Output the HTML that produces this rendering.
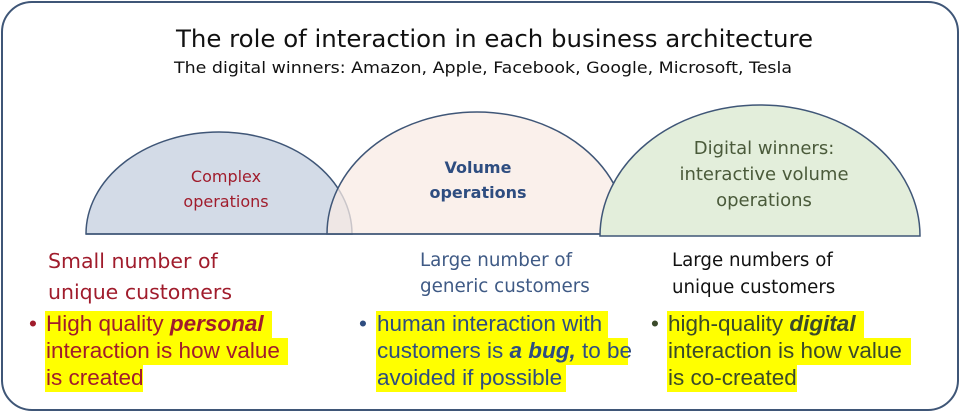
<!DOCTYPE html>
<html><head><style>
body{margin:0;background:#fff;}
svg text{font-family:"Liberation Sans",sans-serif;}
.d{font-family:"DejaVu Sans","Liberation Sans",sans-serif;}
</style></head><body>
<svg width="960" height="412" viewBox="0 0 960 412" xmlns="http://www.w3.org/2000/svg">
<rect x="2" y="2" width="956" height="408" rx="30" fill="#fff" stroke="#3f5677" stroke-width="2"/>
<text x="176" y="47" textLength="637" lengthAdjust="spacingAndGlyphs" fill="#111" class="d" style="font-size:24px">The role of interaction in each business architecture</text>
<text x="174" y="73" textLength="618" lengthAdjust="spacingAndGlyphs" fill="#111" class="d" style="font-size:16px">The digital winners: Amazon, Apple, Facebook, Google, Microsoft, Tesla</text>
<path d="M86 234 A133 102 0 0 1 352 234 Z" fill="#d3dbe7" stroke="#3f5677" stroke-width="1.5"/>
<path d="M327 234 A150 122 0 0 1 627 234 Z" fill="#f8ebe4" fill-opacity="0.75" stroke="#3f5677" stroke-width="1.5"/>
<path d="M600 236 A160 131 0 0 1 920 236 Z" fill="#e3eedb" stroke="#3f5677" stroke-width="1.5"/>
<line x1="86" y1="234" x2="600" y2="234" stroke="#3f5677" stroke-width="1.5"/>
<text x="226" y="182" text-anchor="middle" fill="#a01c2c" class="d" style="font-size:16px">Complex</text>
<text x="226" y="207" text-anchor="middle" fill="#a01c2c" class="d" style="font-size:16px">operations</text>
<text x="478" y="173" text-anchor="middle" fill="#2e4d80" font-weight="bold" class="d" style="font-size:16px">Volume</text>
<text x="478" y="198" text-anchor="middle" fill="#2e4d80" font-weight="bold" class="d" style="font-size:16px">operations</text>
<text x="764" y="154" text-anchor="middle" fill="#4a5a3a" class="d" style="font-size:18px">Digital winners:</text>
<text x="764" y="180" text-anchor="middle" fill="#4a5a3a" class="d" style="font-size:18px">interactive volume</text>
<text x="764" y="206" text-anchor="middle" fill="#4a5a3a" class="d" style="font-size:18px">operations</text>
<text x="48" y="268" fill="#a01c2c" class="d" style="font-size:20.5px">Small number of</text>
<text x="48" y="299" fill="#a01c2c" class="d" style="font-size:20.5px">unique customers</text>
<g fill="#ffff00">
<rect x="45" y="311" width="227" height="27"/><rect x="45" y="338" width="243" height="27"/><rect x="45" y="365" width="98" height="27"/>
<rect x="376" y="311" width="232" height="27"/><rect x="376" y="338" width="252" height="27"/><rect x="376" y="365" width="190" height="27"/>
<rect x="667" y="311" width="197" height="27"/><rect x="667" y="338" width="244" height="27"/><rect x="667" y="365" width="130" height="27"/>
</g>
<g style="font-size:22.5px">
<text x="29" y="331" fill="#a01c2c">•</text>
<text x="46" y="331" fill="#a01c2c">High quality <tspan font-weight="bold" font-style="italic">personal</tspan></text>
<text x="46" y="358" fill="#a01c2c">interaction is how value</text>
<text x="46" y="385" fill="#a01c2c">is created</text>
<text x="359" y="331" fill="#2e4d80">•</text>
<text x="377" y="331" fill="#2e4d80">human interaction with</text>
<text x="377" y="358" fill="#2e4d80">customers is <tspan font-weight="bold" font-style="italic">a bug,</tspan> to be</text>
<text x="377" y="385" fill="#2e4d80">avoided if possible</text>
<text x="651" y="331" fill="#3b4a2a">•</text>
<text x="668" y="331" fill="#3b4a2a">high-quality <tspan font-weight="bold" font-style="italic">digital</tspan></text>
<text x="668" y="358" fill="#3b4a2a">interaction is how value</text>
<text x="668" y="385" fill="#3b4a2a">is co-created</text>
</g>
<text x="420" y="266" fill="#3f5a85" class="d" style="font-size:18.3px">Large number of</text>
<text x="420" y="292" fill="#3f5a85" class="d" style="font-size:18.3px">generic customers</text>
<text x="672" y="266" fill="#111" class="d" style="font-size:18.2px">Large numbers of</text>
<text x="672" y="293" fill="#111" class="d" style="font-size:18.2px">unique customers</text>
</svg>
</body></html>
